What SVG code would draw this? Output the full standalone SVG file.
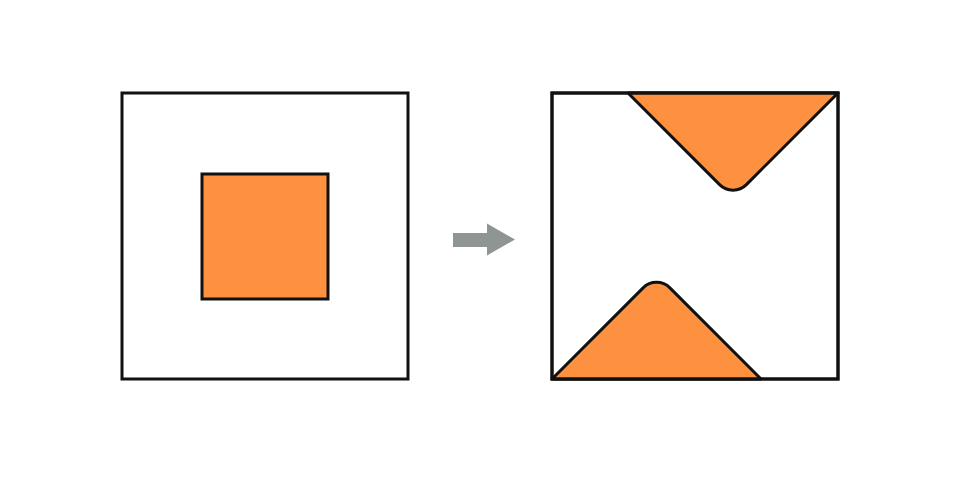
<svg xmlns="http://www.w3.org/2000/svg" width="960" height="480" viewBox="0 0 960 480">
<style>
.frame{fill:#ffffff;stroke:#111111;stroke-width:3;}
.shape{fill:#FD9140;stroke:#111111;stroke-width:3;stroke-linejoin:round;}
.arrow{fill:#8F9592;stroke:none;}
</style>
<rect x="0" y="0" width="960" height="480" fill="#ffffff"/>
<g id="before">
<rect class="frame" x="122" y="93" width="286" height="286"/>
<rect class="shape" x="202" y="174" width="126" height="125" style="stroke-linejoin:miter"/>
</g>
<g id="after">
<rect class="frame" x="552" y="93" width="286" height="286"/>
<path class="shape" d="M628,93 L719.6,184.6 A19,19 0 0 0 746.4,184.6 L838,93 Z"/>
<path class="shape" d="M552,379 L643.1,287.9 A19,19 0 0 1 669.9,287.9 L761,379 Z"/>
<rect x="552" y="93" width="286" height="286" fill="none" stroke="#111111" stroke-width="3"/>
</g>
<g id="connectors">
<polygon class="arrow" points="453,233 487,233 487,223.5 515,239.5 487,255.5 487,247 453,247"/>
</g>
</svg>
